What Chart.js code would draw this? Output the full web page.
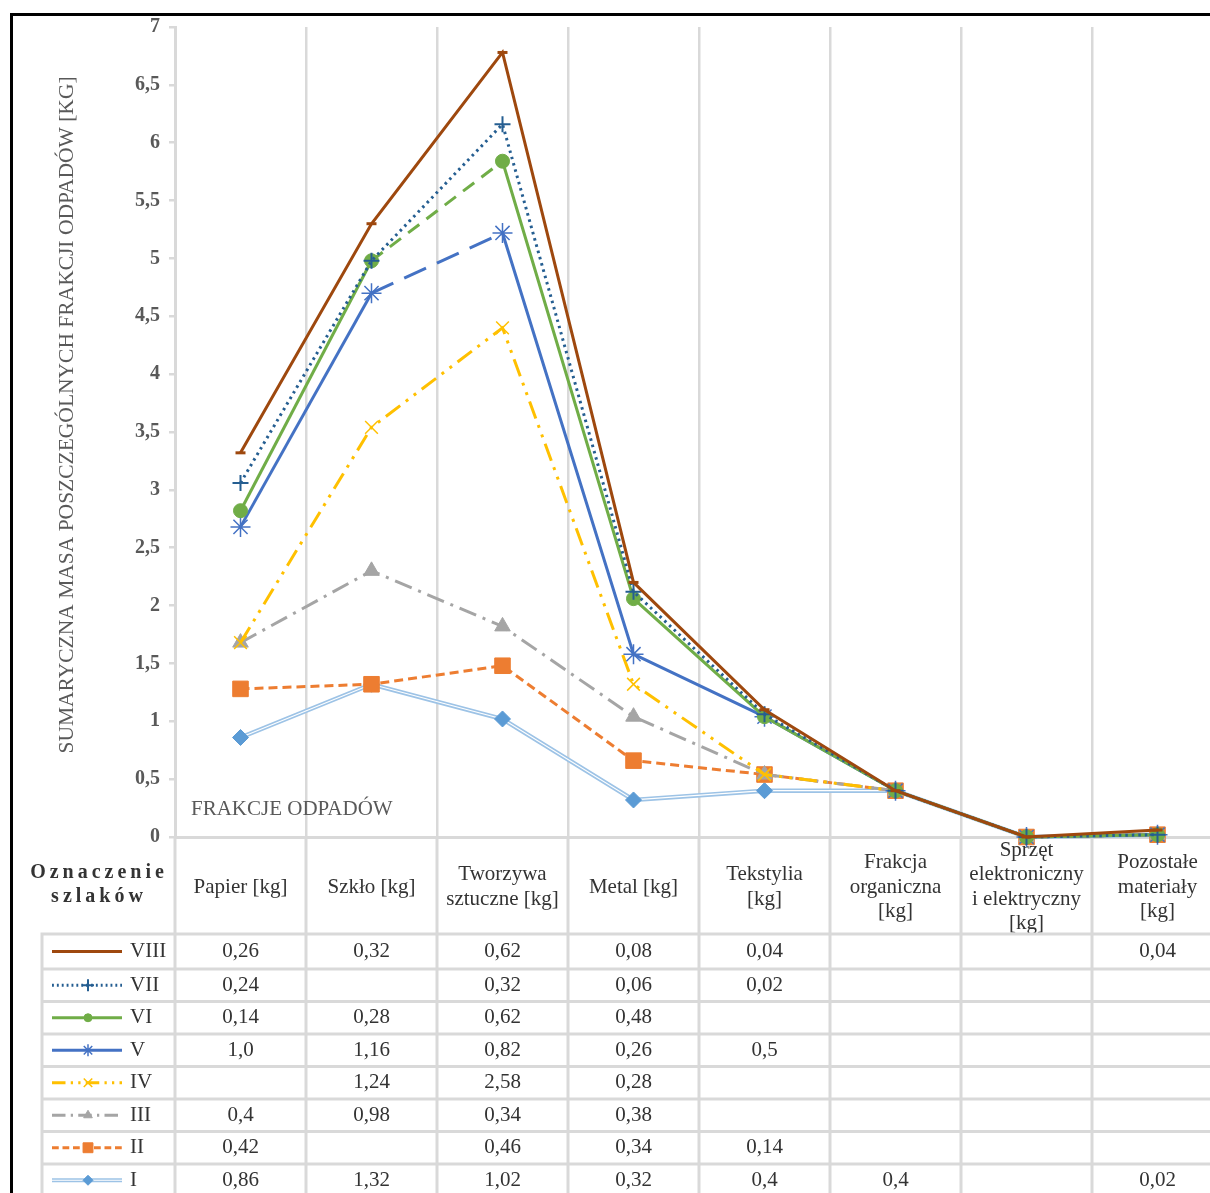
<!DOCTYPE html>
<html>
<head>
<meta charset="utf-8">
<script src="https://cdn.jsdelivr.net/npm/chart.js@4.4.1/dist/chart.umd.min.js"></script>
<style>
  html, body { margin: 0; padding: 0; background: #fff; overflow: hidden; width: 1210px; height: 1193px; }
  canvas { display: block; }
</style>
</head>
<body>
<canvas id="chart" width="1240" height="1193"></canvas>
<script>
// Waste fractions (column headers of the data table, one array per line of text)
const categories = [
  ['Papier [kg]'],
  ['Szkło [kg]'],
  ['Tworzywa', 'sztuczne [kg]'],
  ['Metal [kg]'],
  ['Tekstylia', '[kg]'],
  ['Frakcja', 'organiczna', '[kg]'],
  ['Sprzęt', 'elektroniczny', 'i elektryczny', '[kg]'],
  ['Pozostałe', 'materiały', '[kg]']
];

// Route names (bottom of the stack first)
const routeNames = ['I', 'II', 'III', 'IV', 'V', 'VI', 'VII', 'VIII'];

// Mass collected on each route per fraction [kg]; null = empty cell
const routeI    = [0.86, 1.32, 1.02, 0.32, 0.4,  0.4,  null, 0.02];
const routeII   = [0.42, null, 0.46, 0.34, 0.14, null, null, null];
const routeIII  = [0.4,  0.98, 0.34, 0.38, null, null, null, null];
const routeIV   = [null, 1.24, 2.58, 0.28, null, null, null, null];
const routeV    = [1.0,  1.16, 0.82, 0.26, 0.5,  null, null, null];
const routeVI   = [0.14, 0.28, 0.62, 0.48, null, null, null, null];
const routeVII  = [0.24, null, 0.32, 0.06, 0.02, null, null, null];
const routeVIII = [0.26, 0.32, 0.62, 0.08, 0.04, null, null, 0.04];

// Y axis tick values
const yTicks = [0, 0.5, 1, 1.5, 2, 2.5, 3, 3.5, 4, 4.5, 5, 5.5, 6, 6.5, 7];

const yTitle = 'SUMARYCZNA MASA POSZCZEGÓLNYCH FRAKCJI ODPADÓW [KG]';
const xTitle = 'FRAKCJE ODPADÓW';
const tableCorner = ['Oznaczenie', 'szlaków'];

const routeValues = [routeI, routeII, routeIII, routeIV, routeV, routeVI, routeVII, routeVIII];

// ---- styling -------------------------------------------------------------
const SERIF = '"Liberation Serif", "Times New Roman", serif';
const GRID = '#d9d9d9';
const TEXT = '#333333';
const AXIS_TEXT = '#595959';

const routeStyles = [
  { line: '#9dc3e6', color: '#5b9bd5', dash: [],               point: 'rectRot',  r: 8,  bw: 1,   legR: 5 },
  { line: '#ed7d31', color: '#ed7d31', dash: [9, 5],           point: 'rect',     r: 11, bw: 1,   legR: 7 },
  { line: '#a5a5a5', color: '#a5a5a5', dash: [18, 7, 3, 7],    point: 'triangle', r: 9,  bw: 1,   legR: 5 },
  { line: '#ffc000', color: '#ffc000', dash: [18, 7, 3, 7, 3, 7], point: 'crossRot', r: 9, bw: 1.5, legR: 6 },
  { line: '#4472c4', color: '#4472c4', dash: [],               point: 'star',     r: 10, bw: 1.5, legR: 6, segDash: [24, 12] },
  { line: '#70ad47', color: '#70ad47', dash: [],               point: 'circle',   r: 7,  bw: 1,   legR: 4, segDash: [14, 9] },
  { line: '#255e91', color: '#255e91', dash: [2.5, 4],         point: 'cross',    r: 8,  bw: 2,   legR: 6 },
  { line: '#9e480e', color: '#9e480e', dash: [],               point: 'line',     r: 5,  bw: 3,   legR: 4 }
];

const fmt = v => (Number.isInteger(v) ? v.toFixed(1) : String(v)).replace('.', ',');

const datasets = routeNames.map((name, i) => {
  const s = routeStyles[i];
  const ds = {
    label: name,
    data: routeValues[i].map(v => v ?? 0),
    borderColor: s.line,
    backgroundColor: s.color,
    pointBackgroundColor: s.color,
    pointBorderColor: s.color,
    borderWidth: i === 0 ? 4.5 : 3,
    borderDash: s.dash,
    pointStyle: s.point,
    pointRadius: s.r,
    pointBorderWidth: s.bw,
    fill: false,
    tension: 0,
    clip: false
  };
  if (s.segDash) {
    ds.segment = { borderDash: c => (c.p0DataIndex === 1 ? s.segDash : undefined) };
  }
  return ds;
});

function drawMarker(ctx, s, x, y, r) {
  ctx.fillStyle = s.color;
  ctx.strokeStyle = s.color;
  ctx.lineWidth = s.bw;
  ctx.setLineDash([]);
  Chart.helpers.drawPoint(ctx, { pointStyle: s.point, radius: r, borderWidth: s.bw, rotation: 0 }, x, y);
}

function drawTable(chart) {
  const ctx = chart.ctx;
  const xs = chart.scales.x;
  const area = chart.chartArea;
  const H = chart.height, W = chart.width;
  const n = categories.length;
  const step = (area.right - area.left) / n;
  const rowLines = [934, 969, 1001.5, 1034, 1066.5, 1099, 1131.5, 1164, 1196.5];

  ctx.save();
  // header text
  ctx.fillStyle = TEXT;
  ctx.textAlign = 'center';
  ctx.textBaseline = 'middle';
  ctx.font = '21px ' + SERIF;
  categories.forEach((lines, i) => {
    const cx = xs.getPixelForValue(i);
    const lh = 24.5;
    const y0 = 887 - (lines.length - 1) * lh / 2;
    lines.forEach((t, k) => ctx.fillText(t, cx, y0 + k * lh));
  });

  // corner cell
  ctx.font = 'bold 20px ' + SERIF;
  ctx.letterSpacing = '4px';
  ctx.fillText(tableCorner[0], 99, 873);
  ctx.fillText(tableCorner[1], 99, 897);
  ctx.letterSpacing = '0px';

  // body: values and legend keys, top row = last route
  ctx.font = '21px ' + SERIF;
  for (let row = 0; row < routeNames.length; row++) {
    const si = routeNames.length - 1 - row;
    const s = routeStyles[si];
    const cy = (rowLines[row] + rowLines[row + 1]) / 2;
    routeValues[si].forEach((v, i) => {
      if (v === null) return;
      ctx.fillStyle = TEXT;
      ctx.textAlign = 'center';
      ctx.fillText(fmt(v), xs.getPixelForValue(i), cy);
    });
    // legend key
    ctx.save();
    ctx.strokeStyle = s.line;
    ctx.lineWidth = si === 0 ? 4 : 3;
    ctx.setLineDash(s.dash.map(d => d * 0.75));
    ctx.beginPath();
    ctx.moveTo(52, cy);
    ctx.lineTo(122, cy);
    ctx.stroke();
    if (si === 0) {
      ctx.strokeStyle = '#fff';
      ctx.lineWidth = 1;
      ctx.beginPath();
      ctx.moveTo(52, cy);
      ctx.lineTo(122, cy);
      ctx.stroke();
    }
    drawMarker(ctx, s, 88, cy, s.legR);
    ctx.restore();
    ctx.fillStyle = TEXT;
    ctx.textAlign = 'left';
    ctx.fillText(routeNames[si], 130, cy);
  }

  // grid of the table
  ctx.strokeStyle = GRID;
  ctx.setLineDash([]);
  ctx.lineWidth = 3;
  ctx.beginPath();
  for (let i = 0; i <= n; i++) {
    const x = area.left + i * step;
    ctx.moveTo(x, area.bottom);
    ctx.lineTo(x, H);
  }
  ctx.moveTo(42, rowLines[0] - 1.5);
  ctx.lineTo(42, H);
  rowLines.forEach(y => {
    ctx.moveTo(42, y);
    ctx.lineTo(W, y);
  });
  ctx.stroke();
  ctx.restore();
}

const tablePlugin = {
  id: 'routeTable',
  beforeDraw(chart) {
    const ctx = chart.ctx;
    ctx.save();
    ctx.fillStyle = '#fff';
    ctx.fillRect(0, 0, chart.width, chart.height);
    ctx.restore();
  },
  beforeDatasetsDraw(chart) {
    drawTable(chart);
    const ctx = chart.ctx;
    const area = chart.chartArea;
    // draw routes bottom-up so the highest route lies on top
    chart.data.datasets.forEach((ds, i) => {
      const meta = chart.getDatasetMeta(i);
      if (i === 0) {
        meta.dataset.draw(ctx, area);
        ctx.save();
        ctx.strokeStyle = '#ffffff';
        ctx.lineWidth = 1.2;
        ctx.beginPath();
        meta.data.forEach((p, j) => (j ? ctx.lineTo(p.x, p.y) : ctx.moveTo(p.x, p.y)));
        ctx.stroke();
        ctx.restore();
        meta.data.forEach(p => p.draw(ctx, area));
      } else {
        meta.controller.draw();
      }
    });
    return false;
  },
  afterDraw(chart) {
    const ctx = chart.ctx;
    const area = chart.chartArea;
    ctx.save();
    // axis titles
    ctx.fillStyle = AXIS_TEXT;
    ctx.font = '21px ' + SERIF;
    ctx.textAlign = 'left';
    ctx.textBaseline = 'middle';
    ctx.fillText(xTitle, area.left + 16, 809);
    ctx.translate(67, 415);
    ctx.rotate(-Math.PI / 2);
    ctx.textAlign = 'center';
    ctx.font = '21.5px ' + SERIF;
    ctx.fillText(yTitle, 0, 0);
    ctx.restore();
    // frame
    ctx.save();
    ctx.fillStyle = '#000';
    ctx.fillRect(10, 13, chart.width, 3);
    ctx.fillRect(10, 13, 3, chart.height);
    ctx.restore();
  }
};

new Chart(document.getElementById('chart'), {
  type: 'line',
  data: { labels: categories, datasets },
  options: {
    responsive: false,
    animation: false,
    devicePixelRatio: 1,
    layout: { padding: { top: 27, right: 17, bottom: 356, left: 0 } },
    plugins: { legend: { display: false }, tooltip: { enabled: false } },
    scales: {
      x: {
        type: 'category',
        offset: true,
        ticks: { display: false },
        grid: { offset: true, color: GRID, lineWidth: 2.5, drawTicks: false },
        border: { color: GRID, width: 3 },
        afterFit: s => { s.height = 0; }
      },
      y: {
        stacked: true,
        min: 0,
        max: 7,
        afterBuildTicks: s => { s.ticks = yTicks.map(v => ({ value: v })); },
        ticks: {
          padding: 9,
          color: AXIS_TEXT,
          font: { family: SERIF, size: 20, weight: 'bold' },
          callback: v => String(v).replace('.', ',')
        },
        grid: { drawOnChartArea: false, drawTicks: true, tickLength: 6, color: GRID, lineWidth: 2.5 },
        border: { color: GRID, width: 3 },
        afterFit: s => { s.width = 175; }
      }
    }
  },
  plugins: [tablePlugin]
});
</script>
</body>
</html>
